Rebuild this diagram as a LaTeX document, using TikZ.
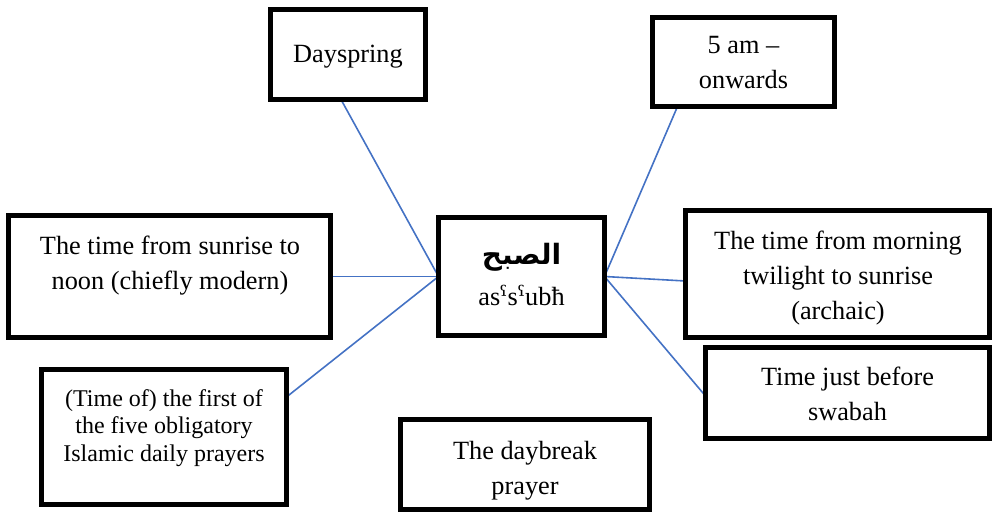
\documentclass[tikz,border=0pt]{standalone}
\usepackage{fontspec}
\setmainfont{Liberation Serif}
\newfontfamily\arabicfont[Script=Arabic]{DejaVu Sans}
\newfontfamily\ipafont{DejaVu Serif}
\TeXXeTstate=1
\usetikzlibrary{backgrounds}
\definecolor{linkblue}{RGB}{68,114,196}
\tikzset{
  box/.style={draw=black, line width=5pt, fill=white, inner sep=0pt, outer sep=0pt},
  boxtext/.style={align=center, inner sep=0pt, font=\fontsize{26.3}{35}\selectfont},
  smalltext/.style={align=center, inner sep=0pt, font=\fontsize{24}{27.5}\selectfont},
  link/.style={draw=linkblue, line width=1.6pt},
}
\begin{document}
\begin{tikzpicture}[x=1pt, y=-1pt]
\useasboundingbox (0,0) rectangle (995,514);
% boxes
\node[box, minimum width=155pt, minimum height=90pt]  (day)      at (348,54.5)  {};
\node[box, minimum width=182pt, minimum height=89pt]  (five)     at (743.5,62)  {};
\node[box, minimum width=322pt, minimum height=122pt] (noon)     at (169.5,276.5) {};
\node[box, minimum width=166pt, minimum height=118pt] (ctr)      at (521.5,276.5) {};
\node[box, minimum width=304pt, minimum height=127pt] (arch)     at (837.5,274) {};
\node[box, minimum width=284pt, minimum height=91pt]  (before)   at (847.5,393) {};
\node[box, minimum width=245pt, minimum height=135pt] (prayers)  at (164,437)   {};
\node[box, minimum width=249pt, minimum height=90pt]  (daybreak) at (525,464.5) {};
% texts
\node[boxtext] (tday) at (348,57) {Dayspring};
\node[boxtext] (tfive) at (743.5,63) {5 am --\\onwards};
\node[boxtext] (tnoon) at (170,265.5) {The time from sunrise to\\noon (chiefly modern)};
\node[boxtext] (tarch) at (838,278.5) {The time from morning\\twilight to sunrise\\(archaic)};
\node[boxtext] (tbefore) at (847.5,394) {Time just before\\swabah};
\node[smalltext] (tprayers) at (164,428) {(Time of) the first of\\the five obligatory\\Islamic daily prayers};
\node[boxtext] (tdaybreak) at (525,470.5) {The daybreak\\prayer};
\node[align=center, inner sep=0pt, font=\fontsize{26.3}{41}\selectfont] (tctr) at (521.5,274)
  {{\arabicfont\bfseries\fontsize{28}{41}\selectfont\beginR الصبح\endR}\\as{\ipafont ˤ}s{\ipafont ˤ}ubħ};
% connectors
\begin{scope}[on background layer]
\draw[link] (ctr.west) -- ([xshift=-7pt]day.south);
\draw[link] (ctr.west) -- (noon.east);
\draw[link] (ctr.west) -- ([yshift=40pt]prayers.east);
\draw[link] (ctr.east) -- ([xshift=-66pt]five.south);
\draw[link] (ctr.east) -- ([yshift=-7pt]arch.west);
\draw[link] (ctr.east) -- ([yshift=-3pt]before.west);
\end{scope}
\end{tikzpicture}
\end{document}
